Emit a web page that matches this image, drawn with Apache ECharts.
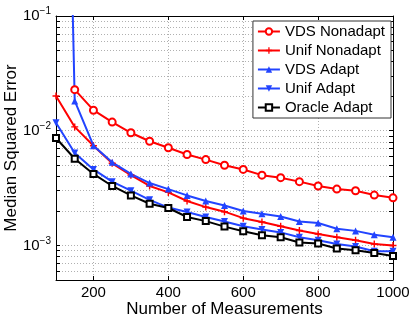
<!DOCTYPE html>
<html><head><meta charset="utf-8">
<script src="https://cdn.jsdelivr.net/npm/echarts@6/dist/echarts.min.js"></script>
<style>html,body{margin:0;padding:0;background:#fff}#c{width:415px;height:319px}</style>
</head><body><div id="c"></div>
<script>
const xValues = [100,150,200,250,300,350,400,450,500,550,600,650,700,750,800,850,900,950,1000];
const vdsNonadapt = [null,0.0228,0.0151,0.0119,0.0096,0.0081,0.0071,0.0062,0.0056,0.0050,0.0046,0.0041,0.0039,0.0036,0.0033,0.0031,0.0030,0.00275,0.0026];
const unifNonadapt = [0.0201,0.0108,0.0074,0.0052,0.0041,0.0033,0.0029,0.00244,0.00216,0.00197,0.00173,0.0016,0.00147,0.00135,0.00126,0.00118,0.00111,0.00103,0.00100];
const vdsAdapt = [3e5,0.0182,0.0074,0.0053,0.0042,0.0035,0.0031,0.00273,0.00244,0.00223,0.0020,0.00189,0.00179,0.00162,0.00157,0.0014,0.00134,0.00124,0.00118];
const unifAdapt = [0.01175,0.0064,0.0046,0.0036,0.0030,0.0025,0.00214,0.00196,0.00177,0.00162,0.00147,0.00138,0.0013,0.00118,0.00111,0.00103,0.00098,0.00089,0.00089];
const oracleAdapt = [0.00865,0.0057,0.0042,0.0033,0.00273,0.00231,0.00212,0.00177,0.00163,0.00146,0.00133,0.00123,0.00118,0.00106,0.00104,0.00094,0.00091,0.00086,0.00081];
const seriesNames = ['VDS Nonadapt','Unif Nonadapt','VDS Adapt','Unif Adapt','Oracle Adapt'];
const xTicks = [200,400,600,800,1000];
const yTicks = [0.001,0.01,0.1];
const yMin = 0.0005, yMax = 0.1, xMin = 100, xMax = 1000;

const yMinor = [];
[0.0001,0.001,0.01].forEach(d => { for (let k=2;k<=9;k++){ const v=+(d*k).toPrecision(3); if (v>yMin && v<yMax) yMinor.push(v);} });
const yAllTicks = yTicks.concat(yMinor).sort((a,b)=>a-b);

const RED = '#ff0000', BLUE = '#2244ff', BLACK = '#000000';
const FONT = '"Liberation Sans", Arial, Helvetica, sans-serif';
function pairs(arr){ return xValues.map((x,i)=>[x,arr[i]]); }

const chart = echarts.init(document.getElementById('c'), null, {renderer:'canvas'});
const yLabelFmt = v => { const e = Math.round(Math.log10(v)); return '{b|10}{s|−' + (-e) + '}'; };
const gridLine = {show:true, lineStyle:{type:[1,2], color:'#b0b0b0', width:1}};

const lineBase = {type:'line', showSymbol:true, symbolSize:7, z:3, animation:false, clip:true, connectNulls:false};
chart.setOption({
  animation:false,
  textStyle:{fontFamily:FONT},
  grid:{left:56, right:22, top:16, bottom:39, show:false, containLabel:false, outerBoundsMode:'none'},
  legend:{
    data:seriesNames, orient:'vertical', right:24, top:21,
    backgroundColor:'#fff', borderColor:'#333', borderWidth:1, borderRadius:0,
    padding:[3,6,3,4], itemWidth:22, itemHeight:8, itemGap:4,
    textStyle:{fontSize:15, color:'#000', fontFamily:FONT}
  },
  xAxis:[{
    type:'value', min:xMin, max:xMax, position:'bottom',
    name:'Number of Measurements', nameLocation:'middle', nameGap:21, nameMoveOverlap:false,
    nameTextStyle:{fontSize:17, color:'#000', fontFamily:FONT},
    axisLine:{show:true, lineStyle:{color:'#000', width:1}},
    axisTick:{show:true, inside:true, length:4, customValues:xTicks, lineStyle:{color:'#000'}},
    axisLabel:{show:true, customValues:xTicks, formatter:v=>String(v), fontSize:15, color:'#000', margin:5, fontFamily:FONT},
    splitLine:gridLine
  },{
    type:'value', min:xMin, max:xMax, position:'top',
    axisLine:{show:true, lineStyle:{color:'#000', width:1}},
    axisTick:{show:true, inside:true, length:4, customValues:xTicks, lineStyle:{color:'#000'}},
    axisLabel:{show:false}, splitLine:{show:false}
  }],
  yAxis:[{
    type:'log', logBase:10, min:yMin, max:yMax, position:'left',
    name:'Median Squared Error', nameLocation:'middle', nameGap:36, nameMoveOverlap:false,
    nameTextStyle:{fontSize:17, color:'#000', fontFamily:FONT},
    axisLine:{show:true, lineStyle:{color:'#000', width:1}},
    axisTick:{show:true, inside:true, length:4, customValues:yAllTicks, lineStyle:{color:'#000'}},
    axisLabel:{show:true, customValues:yTicks, formatter:yLabelFmt, margin:5,
      rich:{b:{fontSize:15, color:'#000', fontFamily:FONT}, s:{fontSize:10, color:'#000', fontFamily:FONT, padding:[0,0,9,0]}}},
    splitLine:gridLine, minorTick:{show:false}
  },{
    type:'log', logBase:10, min:yMin, max:yMax, position:'right',
    axisLine:{show:true, lineStyle:{color:'#000', width:1}},
    axisTick:{show:true, inside:true, length:4, customValues:yAllTicks, lineStyle:{color:'#000'}},
    axisLabel:{show:false}, splitLine:{show:false}
  }],
  series:[
    Object.assign({}, lineBase, {name:seriesNames[0], data:pairs(vdsNonadapt), color:RED,
      symbol:'emptyCircle', lineStyle:{width:2, color:RED}, itemStyle:{color:RED, borderColor:RED, borderWidth:1.5}}),
    Object.assign({}, lineBase, {name:seriesNames[1], data:pairs(unifNonadapt), color:RED,
      symbol:'path://M4,0h2v4h4v2h-4v4h-2v-4h-4v-2h4z', symbolSize:7, lineStyle:{width:2, color:RED}, itemStyle:{color:RED}}),
    Object.assign({}, lineBase, {name:seriesNames[2], data:pairs(vdsAdapt), color:BLUE,
      symbol:'triangle', symbolSize:7, lineStyle:{width:2, color:BLUE}, itemStyle:{color:BLUE}}),
    Object.assign({}, lineBase, {name:seriesNames[3], data:pairs(unifAdapt), color:BLUE,
      symbol:'path://M0,0L10,0L5,9Z', symbolSize:7, lineStyle:{width:2, color:BLUE}, itemStyle:{color:BLUE}}),
    Object.assign({}, lineBase, {name:seriesNames[4], data:pairs(oracleAdapt), color:BLACK,
      symbol:'emptyRect', symbolSize:6, lineStyle:{width:2, color:BLACK}, itemStyle:{color:BLACK, borderColor:BLACK, borderWidth:1.5}})
  ]
});
</script></body></html>
